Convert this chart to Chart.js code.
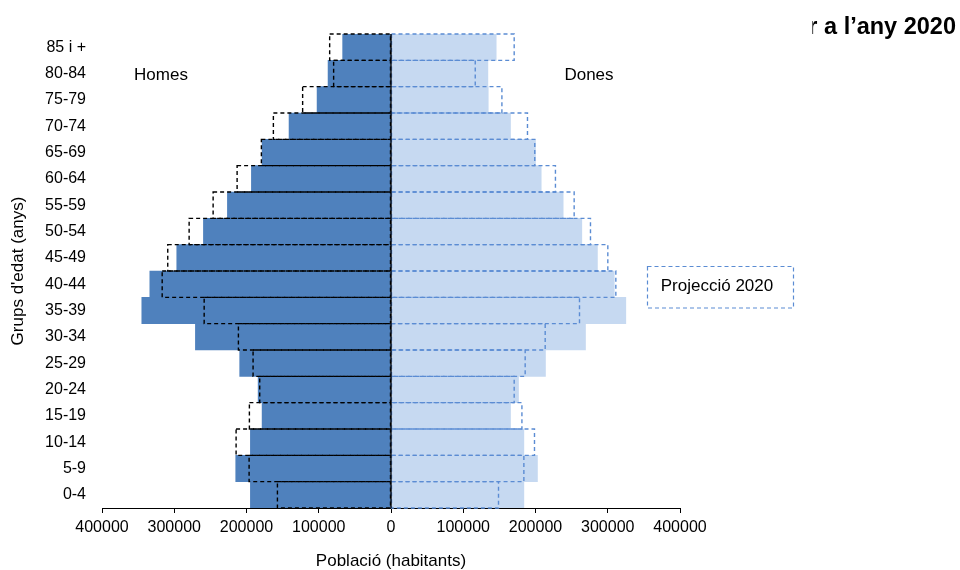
<!DOCTYPE html>
<html>
<head>
<meta charset="utf-8">
<script src="https://cdn.jsdelivr.net/npm/chart.js@4.4.1/dist/chart.umd.min.js"></script>
<style>
  html, body { margin: 0; padding: 0; background: #ffffff; }
  #wrap { width: 960px; height: 570px; position: relative; }
</style>
</head>
<body>
<div id="wrap"><canvas id="c" width="960" height="570"></canvas></div>
<script>
// ---- data (top row first) ----
const ageGroups = ["85 i +", "80-84", "75-79", "70-74", "65-69", "60-64", "55-59", "50-54", "45-49",
                   "40-44", "35-39", "30-34", "25-29", "20-24", "15-19", "10-14", "5-9", "0-4"];
const homesActual = [66900, 87100, 102300, 141100, 178400, 193200, 226400, 259600, 296500,
                     333800, 344900, 270700, 209400, 183900, 178400, 194600, 214900, 194600];
const homesProj2020 = [84900, 79400, 122300, 162800, 179400, 213000, 246200, 279400, 309000,
                       316700, 258600, 211200, 190900, 181700, 196000, 214400, 196400, 157200];
const donesActual = [145600, 134100, 134600, 165400, 200000, 207900, 238300, 264100, 285700,
                     309000, 325000, 269200, 213800, 176500, 165400, 183900, 202700, 183900];
const donesProj2020 = [170500, 116600, 153500, 188900, 199000, 227600, 253500, 276100, 300100,
                       311200, 260900, 213400, 185700, 170500, 181200, 198600, 183900, 148800];
const xTicks = [-400000, -300000, -200000, -100000, 0, 100000, 200000, 300000, 400000];

const titleText = "r a l\u2019any 2020";
const homesLabel = "Homes";
const donesLabel = "Dones";
const projLabel = "Projecci\u00f3 2020";
const yTitle = "Grups d'edat (anys)";
const xTitle = "Poblaci\u00f3 (habitants)";

const FONT = "'Liberation Sans', Arial, sans-serif";
const C_MEN = "#4F81BD";
const C_WOMEN = "#C6D9F1";
const C_WOMEN_DASH = "#5B8CD3";

const decorPlugin = {
  id: 'decor',
  afterDatasetsDraw(chart) {
    const ctx = chart.ctx;
    const xs = chart.scales.x;
    const area = chart.chartArea;
    // dashed projection outlines
    [[2, '#000000'], [3, C_WOMEN_DASH]].forEach(([di, col]) => {
      const meta = chart.getDatasetMeta(di);
      ctx.save();
      ctx.strokeStyle = col;
      ctx.lineWidth = 1.4;
      ctx.setLineDash([4, 3]);
      meta.data.forEach(el => {
        const p = el.getProps(['x', 'y', 'base', 'height'], true);
        const x1 = Math.min(p.x, p.base), x2 = Math.max(p.x, p.base);
        ctx.strokeRect(x1, p.y - p.height / 2, x2 - x1, p.height);
      });
      ctx.restore();
    });
    // zero line
    const x0 = xs.getPixelForValue(0);
    ctx.save();
    ctx.strokeStyle = '#000';
    ctx.lineWidth = 1.3;
    ctx.beginPath();
    ctx.moveTo(x0, area.top);
    ctx.lineTo(x0, area.bottom);
    ctx.stroke();
    ctx.restore();
  },
  afterDraw(chart) {
    const ctx = chart.ctx;
    ctx.save();
    ctx.fillStyle = '#000';
    ctx.font = "17px " + FONT;
    ctx.textAlign = 'center';
    ctx.textBaseline = 'middle';
    ctx.fillText(homesLabel, 161, 75);
    ctx.fillText(donesLabel, 589, 75);
    // legend box
    ctx.save();
    ctx.strokeStyle = C_WOMEN_DASH;
    ctx.lineWidth = 1.2;
    ctx.setLineDash([4, 3]);
    ctx.strokeRect(647.5, 266.5, 146, 41.5);
    ctx.restore();
    ctx.fillText(projLabel, 717, 286);
    // clipped title
    ctx.font = "bold 23.5px " + FONT;
    ctx.textAlign = 'right';
    const w = ctx.measureText(titleText).width;
    ctx.beginPath();
    ctx.rect(956 - w + 4, 0, w, 60);
    ctx.clip();
    ctx.fillText(titleText, 956, 28);
    ctx.restore();
  }
};

new Chart(document.getElementById('c'), {
  type: 'bar',
  data: {
    labels: ageGroups,
    datasets: [
      { label: 'Homes', data: homesActual.map(v => -v), backgroundColor: C_MEN, borderWidth: 0 },
      { label: 'Dones', data: donesActual, backgroundColor: C_WOMEN, borderWidth: 0 },
      { label: 'Homes 2020', data: homesProj2020.map(v => -v), backgroundColor: 'rgba(0,0,0,0)', borderWidth: 0 },
      { label: 'Dones 2020', data: donesProj2020, backgroundColor: 'rgba(0,0,0,0)', borderWidth: 0 }
    ]
  },
  options: {
    indexAxis: 'y',
    responsive: false,
    animation: false,
    maintainAspectRatio: false,
    datasets: { bar: { grouped: false, barPercentage: 1, categoryPercentage: 1 } },
    layout: { padding: { top: 34, right: 280, bottom: 0, left: 0 } },
    plugins: { legend: { display: false }, tooltip: { enabled: false }, title: { display: false } },
    scales: {
      x: {
        min: -400000, max: 400000,
        afterBuildTicks: (s) => { s.ticks = xTicks.map(v => ({ value: v })); },
        afterFit: (s) => { s.height = 62; },
        ticks: {
          color: '#000', padding: 5, maxRotation: 0, autoSkip: false,
          font: { family: FONT, size: 16 },
          callback: (v) => String(Math.abs(v))
        },
        grid: { drawOnChartArea: false, color: '#000', tickColor: '#000', tickLength: 5, lineWidth: 1 },
        border: { display: true, color: '#000', width: 1 },
        title: { display: true, text: xTitle, color: '#000', font: { family: FONT, size: 17 }, padding: { top: 0, bottom: -2 } }
      },
      y: {
        afterFit: (s) => { s.width = 102; },
        ticks: { color: '#000', padding: 16, autoSkip: false, font: { family: FONT, size: 16 } },
        grid: { display: false, drawTicks: false },
        border: { display: false },
        title: { display: true, text: yTitle, color: '#000', font: { family: FONT, size: 17 }, padding: { top: 8, bottom: 0 } }
      }
    }
  },
  plugins: [decorPlugin]
});
</script>
</body>
</html>
